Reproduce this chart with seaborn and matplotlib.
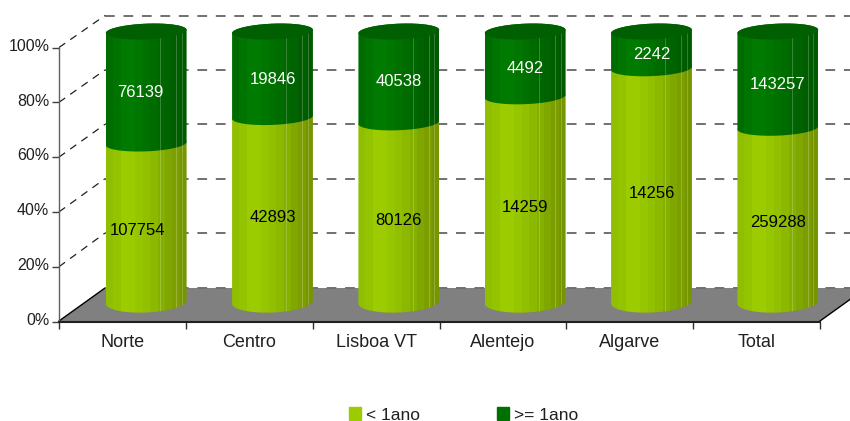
import numpy as np
import pandas as pd
import matplotlib
matplotlib.use("Agg")
import matplotlib.pyplot as plt
from matplotlib.colors import to_rgb
from matplotlib.patches import Patch, Polygon
from matplotlib.transforms import ScaledTranslation
import seaborn as sns

regioes = ["Norte", "Centro", "Lisboa VT", "Alentejo", "Algarve", "Total"]
menos_1ano = [107754, 42893, 80126, 14259, 14256, 259288]
mais_1ano = [76139, 19846, 40538, 4492, 2242, 143257]
pct_ticks = [0, 20, 40, 60, 80, 100]
pct_labels = ["0%", "20%", "40%", "60%", "80%", "100%"]

# colour strips round the cylinders, left to right
strips_claro = ["#8fbf00", "#94c400", "#9ccc00", "#9ccc00", "#96c600", "#92c000", "#8cb800",
                "#86b000", "#80a600", "#7c9e00", "#769600"]
strips_escuro = ["#006c00", "#007400", "#007a00", "#007a00", "#007600", "#007000", "#006c00",
                 "#006600", "#006200", "#005e00", "#005a00"]
cor_topo = "#005f00"

sns.set_theme(style="white")
plt.rcParams["font.family"] = ["Liberation Sans", "DejaVu Sans"]

W, H = 850, 421


def px_axes(x0, y0, x1, y1):
    # axes from pixel box, y counted from top of the picture
    return fig.add_axes([x0 / W, 1 - y1 / H, (x1 - x0) / W, (y1 - y0) / H])


df = pd.DataFrame({"regiao": regioes, "menos": menos_1ano, "mais": mais_1ano})
df["pct_menos"] = df["menos"] / (df["menos"] + df["mais"]) * 100
df["pct_total"] = 100.0

fig = plt.figure(figsize=(W / 100, H / 100), dpi=100)

# floor and back wall
bg = px_axes(0, 0, W, H)
bg.set_xlim(0, W)
bg.set_ylim(H, 0)
bg.axis("off")
bg.add_patch(Polygon([(59, 321), (105, 288), (866, 288), (820, 321)], fc="#808080", ec="none"))
bg.plot([59, 105], [321, 288], color="black", lw=1)
bg.plot([820, 866], [321, 288], color="black", lw=1)
for p in pct_ticks:
    y_frente = 321.5 - p * 2.74
    y_fundo = 287.5 - p * 2.72
    bg.plot([105, 866], [y_fundo, y_fundo], color="#707070", lw=1.4, dashes=(5, 4.5))
    if p > 0:
        bg.plot([59, 105], [y_frente, y_fundo], color="#202020", lw=0.9, dashes=(6, 5))

# front axes with the labels
ax = px_axes(59, 47.5, 820, 321.5)
ax.patch.set_visible(False)
ax.set_xlim(-0.5, 5.5)
ax.set_ylim(0, 100)
ax.set_xticks(range(6), regioes, fontsize=13)
ax.set_xticks(np.arange(-0.5, 6), minor=True)
ax.set_yticks(pct_ticks, pct_labels, fontsize=11.5)
ax.tick_params(axis="x", which="major", length=0, pad=9, colors="#202020")
ax.tick_params(axis="x", which="minor", bottom=True, length=5, width=1, color="#303030")
ax.tick_params(axis="y", left=True, length=5, width=1, color="#404040", pad=2, labelcolor="#202020")
for lab in ax.get_yticklabels():
    lab.set_transform(lab.get_transform() + ScaledTranslation(0, 2 / 72, fig.dpi_scale_trans))
sns.despine(ax=ax)
ax.spines["left"].set_color("#606060")
ax.spines["left"].set_linewidth(1)
ax.spines["bottom"].set_color("#202020")
ax.spines["bottom"].set_linewidth(1.5)

# cylinders, shifted back from the front axes
ax2 = px_axes(83, 18, 841, 315.5)
ax2.patch.set_visible(False)
sns.barplot(data=df, x="regiao", y="pct_total", color="#007000", width=0.64, saturation=1, ax=ax2)
n_fundo = len(ax2.patches)
sns.barplot(data=df, x="regiao", y="pct_menos", color="#8fbf00", width=0.64, saturation=1, ax=ax2)
ax2.set_xlim(-0.5, 5.5)
ax2.set_ylim(-5, 105)
ax2.axis("off")

h_elipse = 2.9
h_base = 3.9
tilt = 0.6


def arco(x0, w, y, t0, t1, h=h_elipse):
    t = np.linspace(t0, t1, 60)
    xs = x0 + w / 2 + w / 2 * np.cos(t)
    ys = y + h * np.sin(t) + tilt * np.cos(t)
    return np.column_stack([xs, ys])


def cilindro(bar, base, topo, strips, z, h=h_elipse):
    x0, w = bar.get_x(), bar.get_width()
    bar.set_visible(False)
    forma = np.vstack([arco(x0, w, base, np.pi, 2 * np.pi, h), arco(x0, w, topo, 0, np.pi)])
    clip = Polygon(forma, closed=True, transform=ax2.transData, fc="none", ec="none")
    ax2.add_patch(clip)
    img = np.array([[to_rgb(c) for c in strips]])
    im = ax2.imshow(img, extent=(x0, x0 + w, base - 6, topo + 6), aspect="auto",
                    interpolation="nearest", zorder=z)
    im.set_clip_path(clip)
    for f in [0.67, 0.87, 0.94]:
        ln = ax2.vlines(x0 + f * w, base - 6, topo + 6, color="white", lw=0.7, alpha=0.22, zorder=z + 0.1)
        ln.set_clip_path(clip)


barras_total = ax2.patches[:n_fundo]
barras_menos = ax2.patches[n_fundo:]
for i, (bt, bm) in enumerate(zip(barras_total, barras_menos)):
    p = df["pct_menos"][i]
    cilindro(bm, 0, p, strips_claro, 3, h_base)
    cilindro(bt, p, 100, strips_escuro, 4)
    cap = arco(bt.get_x(), bt.get_width(), 100, 0, 2 * np.pi)
    ax2.add_patch(Polygon(cap, closed=True, fc=cor_topo, ec="none", zorder=5))
    dx = -0.07 if i == 0 else 0
    ax2.text(i + dx, p / 2 - 3, str(df["menos"][i]), ha="center", va="center", color="black",
             fontsize=12, zorder=6)
    ax2.text(i + dx * 0.7, (p + 100) / 2 - 1.8, str(df["mais"][i]), ha="center", va="center", color="white",
             fontsize=12, zorder=6)
ax2.set_xlim(-0.5, 5.5)
ax2.set_ylim(-5, 105)

handles = [Patch(color="#9ccc00", label="< 1ano"), Patch(color="#007000", label=">= 1ano")]
fig.legend(handles=handles, ncol=2, loc="center", bbox_to_anchor=(463.5 / W, 1 - 415 / H), frameon=False,
           fontsize=12.5, handlelength=0.7, handleheight=0.7, handletextpad=0.3, columnspacing=4.4,
           labelcolor="#202020")

fig.savefig("out.png", dpi=100)
